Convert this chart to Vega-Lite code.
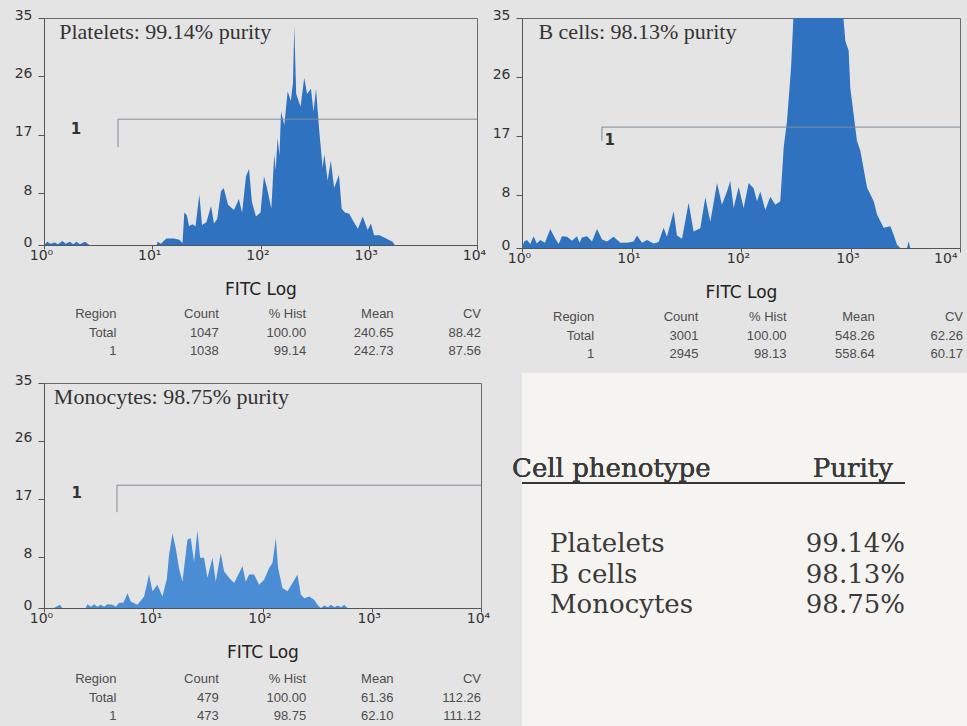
{
  "$schema": "https://vega.github.io/schema/vega-lite/v6.json",
  "background": "#e4e4e4",
  "padding": {"left": 13, "top": 7, "right": 0, "bottom": 0},
  "spacing": 0,
  "config": {
    "font": "DejaVu Sans",
    "view": {"stroke": "#6a6a6a", "strokeWidth": 1, "fill": null},
    "axis": {"grid": false, "domainColor": "#555555", "tickColor": "#555555", "labelColor": "#333333", "titleColor": "#222222", "labelFont": "DejaVu Sans", "labelFontSize": 14, "titleFont": "DejaVu Sans", "titleFontSize": 17, "titleFontWeight": "normal"},
    "axisX": {"labelExpr": "'10' + ['⁰','¹','²','³','⁴'][datum.value]", "labelFlush": false, "labelOffset": -3, "tickSize": 4, "labelPadding": -1, "titlePadding": 19},
    "axisY": {"tickSize": 6, "labelPadding": 6, "labelOffset": -3}
  },
  "hconcat": [
    {
      "spacing": 7,
      "vconcat": [
        {
          "width": 433, "height": 227,
          "data": {"values": [{"title": "Platelets:  99.14% purity", "tx": 0.14, "ty": 35, "gx": 0.684, "gxEnd": 4, "gy": 19.4, "gyLow": 15.1, "lx": 0.296, "ly": 17.9, "gate": "1"}]},
          "layer": [
            {
              "data": {"values": [
                {"logFITC": 0.0, "count": 0}, {"logFITC": 0.03, "count": 0.5}, {"logFITC": 0.06, "count": 0.2}, {"logFITC": 0.1, "count": 0.4}, {"logFITC": 0.13, "count": 0.1}, {"logFITC": 0.17, "count": 0.6}, {"logFITC": 0.2, "count": 0.2}, {"logFITC": 0.24, "count": 0.5}, {"logFITC": 0.27, "count": 0.1}, {"logFITC": 0.3, "count": 0.5}, {"logFITC": 0.33, "count": 0.1}, {"logFITC": 0.38, "count": 0.5}, {"logFITC": 0.42, "count": 0.0},
                {"logFITC": 1.04, "count": 0}, {"logFITC": 1.05, "count": 0.5}, {"logFITC": 1.08, "count": 0.2}, {"logFITC": 1.13, "count": 1.0}, {"logFITC": 1.2, "count": 1.0}, {"logFITC": 1.25, "count": 0.8}, {"logFITC": 1.28, "count": 0.3},
                {"logFITC": 1.296, "count": 5.0}, {"logFITC": 1.32, "count": 4.6}, {"logFITC": 1.34, "count": 2.9}, {"logFITC": 1.37, "count": 3.2}, {"logFITC": 1.4, "count": 2.9}, {"logFITC": 1.435, "count": 7.8}, {"logFITC": 1.46, "count": 3.1}, {"logFITC": 1.5, "count": 3.5}, {"logFITC": 1.543, "count": 6.0}, {"logFITC": 1.57, "count": 3.3}, {"logFITC": 1.6, "count": 4.0}, {"logFITC": 1.635, "count": 8.3}, {"logFITC": 1.66, "count": 8.8}, {"logFITC": 1.7, "count": 6.2}, {"logFITC": 1.755, "count": 5.4}, {"logFITC": 1.8, "count": 7.1}, {"logFITC": 1.83, "count": 5.0}, {"logFITC": 1.866, "count": 10.6}, {"logFITC": 1.894, "count": 11.7}, {"logFITC": 1.92, "count": 6.7}, {"logFITC": 1.958, "count": 4.4}, {"logFITC": 2.0, "count": 5.0}, {"logFITC": 2.032, "count": 10.6}, {"logFITC": 2.06, "count": 8.8}, {"logFITC": 2.1, "count": 5.6}, {"logFITC": 2.127, "count": 14.0}, {"logFITC": 2.14, "count": 11.5}, {"logFITC": 2.158, "count": 16.5}, {"logFITC": 2.175, "count": 13.8}, {"logFITC": 2.19, "count": 20.6}, {"logFITC": 2.22, "count": 18.5}, {"logFITC": 2.251, "count": 23.7}, {"logFITC": 2.28, "count": 22.2}, {"logFITC": 2.3, "count": 25.0}, {"logFITC": 2.312, "count": 33.7}, {"logFITC": 2.33, "count": 23.3}, {"logFITC": 2.37, "count": 21.3}, {"logFITC": 2.404, "count": 25.8}, {"logFITC": 2.43, "count": 23.3}, {"logFITC": 2.466, "count": 24.1}, {"logFITC": 2.49, "count": 20.6}, {"logFITC": 2.513, "count": 24.1}, {"logFITC": 2.54, "count": 18.1}, {"logFITC": 2.574, "count": 11.9}, {"logFITC": 2.59, "count": 14.0}, {"logFITC": 2.62, "count": 9.9}, {"logFITC": 2.65, "count": 13.0}, {"logFITC": 2.68, "count": 8.8}, {"logFITC": 2.725, "count": 10.8}, {"logFITC": 2.75, "count": 5.6}, {"logFITC": 2.78, "count": 5.0}, {"logFITC": 2.82, "count": 4.8}, {"logFITC": 2.86, "count": 3.6}, {"logFITC": 2.9, "count": 2.5}, {"logFITC": 2.944, "count": 4.4}, {"logFITC": 2.99, "count": 2.3}, {"logFITC": 3.02, "count": 3.3}, {"logFITC": 3.05, "count": 1.5}, {"logFITC": 3.1, "count": 1.5}, {"logFITC": 3.16, "count": 1.0}, {"logFITC": 3.22, "count": 0.5}, {"logFITC": 3.24, "count": 0}
              ]},
              "mark": {"type": "area", "color": "#2e72c0", "interpolate": "linear", "clip": true},
              "encoding": {
                "x": {"field": "logFITC", "type": "quantitative", "scale": {"domain": [0, 4], "nice": false}, "axis": {"title": "FITC Log", "values": [0, 1, 2, 3, 4]}},
                "y": {"field": "count", "type": "quantitative", "scale": {"domain": [0, 35], "nice": false}, "axis": {"title": null, "values": [0, 8, 17, 26, 35]}}
              }
            },
            {"mark": {"type": "rule", "color": "#7f8a96", "strokeWidth": 1}, "encoding": {"x": {"field": "gx", "type": "quantitative"}, "x2": {"field": "gxEnd"}, "y": {"field": "gy", "type": "quantitative"}}},
            {"mark": {"type": "rule", "color": "#7f8a96", "strokeWidth": 1}, "encoding": {"x": {"field": "gx", "type": "quantitative"}, "y": {"field": "gy", "type": "quantitative"}, "y2": {"field": "gyLow"}}},
            {"mark": {"type": "text", "font": "DejaVu Sans", "fontSize": 15, "fontWeight": "bold", "color": "#333333"}, "encoding": {"x": {"field": "lx", "type": "quantitative"}, "y": {"field": "ly", "type": "quantitative"}, "text": {"field": "gate"}}},
            {"mark": {"type": "text", "font": "Liberation Serif", "fontSize": 22, "align": "left", "baseline": "top", "dy": 4, "color": "#333333"}, "encoding": {"x": {"field": "tx", "type": "quantitative"}, "y": {"field": "ty", "type": "quantitative"}, "text": {"field": "title"}}}
          ]
        },
        {
          "width": 437, "height": 60,
          "view": {"stroke": null, "fill": null},
          "data": {"values": [
            {"row": "head", "Region": "Region", "Count": "Count", "Hist": "% Hist", "Mean": "Mean", "CV": "CV"},
            {"row": "Total", "Region": "Total", "Count": "1047", "Hist": "100.00", "Mean": "240.65", "CV": "88.42"},
            {"row": "1", "Region": "1", "Count": "1038", "Hist": "99.14", "Mean": "242.73", "CV": "87.56"}
          ]},
          "transform": [{"fold": ["Region", "Count", "Hist", "Mean", "CV"], "as": ["col", "text"]}],
          "encoding": {
            "x": {"field": "col", "type": "nominal", "bandPosition": 1, "scale": {"type": "band", "domain": ["Region", "Count", "Hist", "Mean", "CV"], "paddingInner": 0, "paddingOuter": 0}, "axis": null},
            "y": {"field": "row", "type": "nominal", "scale": {"type": "band", "domain": ["head", "Total", "1"], "paddingInner": 0, "paddingOuter": 0.122, "align": 0}, "axis": null},
            "text": {"field": "text"}
          },
          "layer": [
            {"transform": [{"filter": {"field": "col", "equal": "Region"}}], "mark": {"type": "text", "align": "right", "dx": -15, "font": "Liberation Sans", "fontSize": 13, "color": "#4d4d4d"}},
            {"transform": [{"filter": {"not": {"field": "col", "equal": "Region"}}}], "mark": {"type": "text", "align": "right", "font": "Liberation Sans", "fontSize": 13, "color": "#4d4d4d"}}
          ]
        },
        {
          "width": 437, "height": 225,
          "data": {"values": [{"title": "Monocytes:  98.75% purity", "tx": 0.09, "ty": 35, "gx": 0.668, "gxEnd": 4, "gy": 19.1, "gyLow": 14.9, "lx": 0.3, "ly": 17.9, "gate": "1"}]},
          "layer": [
            {
              "data": {"values": [
                {"logFITC": 0.09, "count": 0}, {"logFITC": 0.147, "count": 0.5}, {"logFITC": 0.168, "count": 0}, {"logFITC": 0.382, "count": 0}, {"logFITC": 0.397, "count": 0.6}, {"logFITC": 0.43, "count": 0.2}, {"logFITC": 0.458, "count": 0.6}, {"logFITC": 0.49, "count": 0.2}, {"logFITC": 0.519, "count": 0.5}, {"logFITC": 0.55, "count": 0.2}, {"logFITC": 0.581, "count": 0.6}, {"logFITC": 0.626, "count": 0.5}, {"logFITC": 0.657, "count": 0.2}, {"logFITC": 0.687, "count": 0.8}, {"logFITC": 0.727, "count": 0.8}, {"logFITC": 0.764, "count": 2.3}, {"logFITC": 0.794, "count": 1.0}, {"logFITC": 0.855, "count": 0.5}, {"logFITC": 0.916, "count": 1.8}, {"logFITC": 0.962, "count": 5.2}, {"logFITC": 0.993, "count": 2.6}, {"logFITC": 1.038, "count": 3.6}, {"logFITC": 1.084, "count": 1.8}, {"logFITC": 1.124, "count": 4.5}, {"logFITC": 1.145, "count": 8.3}, {"logFITC": 1.176, "count": 11.6}, {"logFITC": 1.206, "count": 9.3}, {"logFITC": 1.236, "count": 6.2}, {"logFITC": 1.267, "count": 4.1}, {"logFITC": 1.313, "count": 10.6}, {"logFITC": 1.343, "count": 10.9}, {"logFITC": 1.374, "count": 7.2}, {"logFITC": 1.405, "count": 12.1}, {"logFITC": 1.429, "count": 7.8}, {"logFITC": 1.465, "count": 7.8}, {"logFITC": 1.496, "count": 4.7}, {"logFITC": 1.542, "count": 7.8}, {"logFITC": 1.572, "count": 4.1}, {"logFITC": 1.618, "count": 8.5}, {"logFITC": 1.648, "count": 5.7}, {"logFITC": 1.694, "count": 4.7}, {"logFITC": 1.74, "count": 3.9}, {"logFITC": 1.817, "count": 6.5}, {"logFITC": 1.847, "count": 4.1}, {"logFITC": 1.877, "count": 5.2}, {"logFITC": 1.923, "count": 5.2}, {"logFITC": 1.969, "count": 3.6}, {"logFITC": 2.015, "count": 4.4}, {"logFITC": 2.06, "count": 6.2}, {"logFITC": 2.091, "count": 7.0}, {"logFITC": 2.122, "count": 10.9}, {"logFITC": 2.143, "count": 6.2}, {"logFITC": 2.183, "count": 3.1}, {"logFITC": 2.229, "count": 2.6}, {"logFITC": 2.275, "count": 3.9}, {"logFITC": 2.32, "count": 5.2}, {"logFITC": 2.351, "count": 2.1}, {"logFITC": 2.381, "count": 1.5}, {"logFITC": 2.427, "count": 1.8}, {"logFITC": 2.473, "count": 1.3}, {"logFITC": 2.504, "count": 0.5}, {"logFITC": 2.534, "count": 0}, {"logFITC": 2.564, "count": 0.4}, {"logFITC": 2.6, "count": 0.1}, {"logFITC": 2.626, "count": 0.5}, {"logFITC": 2.66, "count": 0.1}, {"logFITC": 2.687, "count": 0.4}, {"logFITC": 2.72, "count": 0.1}, {"logFITC": 2.747, "count": 0.5}, {"logFITC": 2.778, "count": 0}
              ]},
              "mark": {"type": "area", "color": "#4b8dd5", "interpolate": "linear", "clip": true},
              "encoding": {
                "x": {"field": "logFITC", "type": "quantitative", "scale": {"domain": [0, 4], "nice": false}, "axis": {"title": "FITC Log", "values": [0, 1, 2, 3, 4]}},
                "y": {"field": "count", "type": "quantitative", "scale": {"domain": [0, 35], "nice": false}, "axis": {"title": null, "values": [0, 8, 17, 26, 35]}}
              }
            },
            {"mark": {"type": "rule", "color": "#7f8a96", "strokeWidth": 1}, "encoding": {"x": {"field": "gx", "type": "quantitative"}, "x2": {"field": "gxEnd"}, "y": {"field": "gy", "type": "quantitative"}}},
            {"mark": {"type": "rule", "color": "#7f8a96", "strokeWidth": 1}, "encoding": {"x": {"field": "gx", "type": "quantitative"}, "y": {"field": "gy", "type": "quantitative"}, "y2": {"field": "gyLow"}}},
            {"mark": {"type": "text", "font": "DejaVu Sans", "fontSize": 15, "fontWeight": "bold", "color": "#333333"}, "encoding": {"x": {"field": "lx", "type": "quantitative"}, "y": {"field": "ly", "type": "quantitative"}, "text": {"field": "gate"}}},
            {"mark": {"type": "text", "font": "Liberation Serif", "fontSize": 22, "align": "left", "baseline": "top", "dy": 4, "color": "#333333"}, "encoding": {"x": {"field": "tx", "type": "quantitative"}, "y": {"field": "ty", "type": "quantitative"}, "text": {"field": "title"}}}
          ]
        },
        {
          "width": 437, "height": 62,
          "view": {"stroke": null, "fill": null},
          "data": {"values": [
            {"row": "head", "Region": "Region", "Count": "Count", "Hist": "% Hist", "Mean": "Mean", "CV": "CV"},
            {"row": "Total", "Region": "Total", "Count": "479", "Hist": "100.00", "Mean": "61.36", "CV": "112.26"},
            {"row": "1", "Region": "1", "Count": "473", "Hist": "98.75", "Mean": "62.10", "CV": "111.12"}
          ]},
          "transform": [{"fold": ["Region", "Count", "Hist", "Mean", "CV"], "as": ["col", "text"]}],
          "encoding": {
            "x": {"field": "col", "type": "nominal", "bandPosition": 1, "scale": {"type": "band", "domain": ["Region", "Count", "Hist", "Mean", "CV"], "paddingInner": 0, "paddingOuter": 0}, "axis": null},
            "y": {"field": "row", "type": "nominal", "scale": {"type": "band", "domain": ["head", "Total", "1"], "paddingInner": 0, "paddingOuter": 0.176, "align": 0.3}, "axis": null},
            "text": {"field": "text"}
          },
          "layer": [
            {"transform": [{"filter": {"field": "col", "equal": "Region"}}], "mark": {"type": "text", "align": "right", "dx": -15, "font": "Liberation Sans", "fontSize": 13, "color": "#4d4d4d"}},
            {"transform": [{"filter": {"not": {"field": "col", "equal": "Region"}}}], "mark": {"type": "text", "align": "right", "font": "Liberation Sans", "fontSize": 13, "color": "#4d4d4d"}}
          ]
        }
      ]
    },
    {
      "spacing": 7,
      "vconcat": [
        {
          "width": 438, "height": 230,
          "data": {"values": [{"title": "B cells:  98.13% purity", "tx": 0.15, "ty": 35, "gx": 0.73, "gxEnd": 4, "gy": 18.4, "gyLow": 16.3, "lx": 0.8, "ly": 16.5, "gate": "1"}]},
          "layer": [
            {
              "data": {"values": [
                {"logFITC": 0.0, "count": 0}, {"logFITC": 0.02, "count": 1.0}, {"logFITC": 0.046, "count": 1.2}, {"logFITC": 0.075, "count": 0.6}, {"logFITC": 0.106, "count": 1.8}, {"logFITC": 0.135, "count": 0.7}, {"logFITC": 0.167, "count": 1.2}, {"logFITC": 0.21, "count": 0.8}, {"logFITC": 0.258, "count": 2.9}, {"logFITC": 0.304, "count": 1.4}, {"logFITC": 0.335, "count": 0.6}, {"logFITC": 0.365, "count": 1.8}, {"logFITC": 0.411, "count": 1.7}, {"logFITC": 0.457, "count": 1.1}, {"logFITC": 0.502, "count": 1.8}, {"logFITC": 0.525, "count": 0.8}, {"logFITC": 0.548, "count": 1.6}, {"logFITC": 0.594, "count": 1.8}, {"logFITC": 0.639, "count": 1.0}, {"logFITC": 0.685, "count": 2.9}, {"logFITC": 0.731, "count": 1.3}, {"logFITC": 0.776, "count": 1.0}, {"logFITC": 0.837, "count": 1.7}, {"logFITC": 0.898, "count": 0.8}, {"logFITC": 0.959, "count": 0.8}, {"logFITC": 1.019, "count": 1.0}, {"logFITC": 1.05, "count": 1.9}, {"logFITC": 1.096, "count": 0.8}, {"logFITC": 1.142, "count": 1.2}, {"logFITC": 1.202, "count": 0.7}, {"logFITC": 1.248, "count": 0.9}, {"logFITC": 1.293, "count": 3.1}, {"logFITC": 1.324, "count": 1.7}, {"logFITC": 1.385, "count": 5.6}, {"logFITC": 1.415, "count": 1.9}, {"logFITC": 1.461, "count": 1.4}, {"logFITC": 1.522, "count": 6.9}, {"logFITC": 1.567, "count": 2.5}, {"logFITC": 1.628, "count": 3.0}, {"logFITC": 1.674, "count": 7.7}, {"logFITC": 1.72, "count": 4.0}, {"logFITC": 1.781, "count": 9.9}, {"logFITC": 1.826, "count": 6.6}, {"logFITC": 1.872, "count": 8.6}, {"logFITC": 1.902, "count": 10.2}, {"logFITC": 1.933, "count": 6.1}, {"logFITC": 1.979, "count": 9.3}, {"logFITC": 2.024, "count": 6.1}, {"logFITC": 2.07, "count": 9.9}, {"logFITC": 2.115, "count": 9.1}, {"logFITC": 2.146, "count": 7.1}, {"logFITC": 2.176, "count": 8.6}, {"logFITC": 2.222, "count": 5.8}, {"logFITC": 2.268, "count": 7.8}, {"logFITC": 2.313, "count": 6.6}, {"logFITC": 2.359, "count": 7.1}, {"logFITC": 2.39, "count": 15.3}, {"logFITC": 2.42, "count": 19.3}, {"logFITC": 2.457, "count": 27.4}, {"logFITC": 2.487, "count": 38}, {"logFITC": 2.51, "count": 45}, {"logFITC": 2.55, "count": 55}, {"logFITC": 2.6, "count": 62}, {"logFITC": 2.65, "count": 70}, {"logFITC": 2.7, "count": 72}, {"logFITC": 2.75, "count": 70}, {"logFITC": 2.8, "count": 65}, {"logFITC": 2.85, "count": 55}, {"logFITC": 2.9, "count": 45}, {"logFITC": 2.925, "count": 37}, {"logFITC": 2.953, "count": 31.5}, {"logFITC": 2.983, "count": 30}, {"logFITC": 2.998, "count": 24.4}, {"logFITC": 3.059, "count": 16.3}, {"logFITC": 3.09, "count": 14.8}, {"logFITC": 3.151, "count": 9.2}, {"logFITC": 3.212, "count": 7.1}, {"logFITC": 3.242, "count": 5.1}, {"logFITC": 3.303, "count": 3.1}, {"logFITC": 3.364, "count": 3.3}, {"logFITC": 3.394, "count": 2.0}, {"logFITC": 3.425, "count": 0.5}, {"logFITC": 3.455, "count": 0}, {"logFITC": 3.516, "count": 0}, {"logFITC": 3.531, "count": 1.0}, {"logFITC": 3.546, "count": 0}
              ]},
              "mark": {"type": "area", "color": "#2e72c0", "interpolate": "linear", "clip": true},
              "encoding": {
                "x": {"field": "logFITC", "type": "quantitative", "scale": {"domain": [0, 4], "nice": false}, "axis": {"title": "FITC Log", "values": [0, 1, 2, 3, 4], "labelAlign": {"condition": {"test": "datum.value == 4", "value": "right"}, "value": "center"}}},
                "y": {"field": "count", "type": "quantitative", "scale": {"domain": [0, 35], "nice": false}, "axis": {"title": null, "values": [0, 8, 17, 26, 35]}}
              }
            },
            {"mark": {"type": "rule", "color": "#7f8a96", "strokeWidth": 1}, "encoding": {"x": {"field": "gx", "type": "quantitative"}, "x2": {"field": "gxEnd"}, "y": {"field": "gy", "type": "quantitative"}}},
            {"mark": {"type": "rule", "color": "#7f8a96", "strokeWidth": 1}, "encoding": {"x": {"field": "gx", "type": "quantitative"}, "y": {"field": "gy", "type": "quantitative"}, "y2": {"field": "gyLow"}}},
            {"mark": {"type": "text", "font": "DejaVu Sans", "fontSize": 15, "fontWeight": "bold", "color": "#333333"}, "encoding": {"x": {"field": "lx", "type": "quantitative"}, "y": {"field": "ly", "type": "quantitative"}, "text": {"field": "gate"}}},
            {"mark": {"type": "text", "font": "Liberation Serif", "fontSize": 22, "align": "left", "baseline": "top", "dy": 4, "color": "#333333"}, "encoding": {"x": {"field": "tx", "type": "quantitative"}, "y": {"field": "ty", "type": "quantitative"}, "text": {"field": "title"}}}
          ]
        },
        {
          "width": 441, "height": 58,
          "view": {"stroke": null, "fill": null},
          "data": {"values": [
            {"row": "head", "Region": "Region", "Count": "Count", "Hist": "% Hist", "Mean": "Mean", "CV": "CV"},
            {"row": "Total", "Region": "Total", "Count": "3001", "Hist": "100.00", "Mean": "548.26", "CV": "62.26"},
            {"row": "1", "Region": "1", "Count": "2945", "Hist": "98.13", "Mean": "558.64", "CV": "60.17"}
          ]},
          "transform": [{"fold": ["Region", "Count", "Hist", "Mean", "CV"], "as": ["col", "text"]}],
          "encoding": {
            "x": {"field": "col", "type": "nominal", "bandPosition": 1, "scale": {"type": "band", "domain": ["Region", "Count", "Hist", "Mean", "CV"], "paddingInner": 0, "paddingOuter": 0}, "axis": null},
            "y": {"field": "row", "type": "nominal", "scale": {"type": "band", "domain": ["head", "Total", "1"], "paddingInner": 0, "paddingOuter": 0.068, "align": 0}, "axis": null},
            "text": {"field": "text"}
          },
          "layer": [
            {"transform": [{"filter": {"field": "col", "equal": "Region"}}], "mark": {"type": "text", "align": "right", "dx": -16, "font": "Liberation Sans", "fontSize": 13, "color": "#4d4d4d"}},
            {"transform": [{"filter": {"not": {"field": "col", "equal": "Region"}}}], "mark": {"type": "text", "align": "right", "font": "Liberation Sans", "fontSize": 13, "color": "#4d4d4d"}}
          ]
        },
        {
          "width": 445, "height": 354,
          "view": {"stroke": null, "fill": "#f6f4f0"},
          "data": {"values": [
            {"cell": "Platelets", "purity": "99.14%"},
            {"cell": "B cells", "purity": "98.13%"},
            {"cell": "Monocytes", "purity": "98.75%"}
          ]},
          "layer": [
            {
              "mark": {"type": "text", "align": "left", "dx": 28, "font": "DejaVu Serif", "fontSize": 26, "color": "#3a3a3a"},
              "encoding": {
                "x": {"datum": "Cell phenotype", "type": "nominal", "scale": {"type": "point", "domain": ["Cell phenotype", "Purity"], "padding": 0.081, "align": 0}, "axis": null},
                "y": {"field": "cell", "type": "nominal", "scale": {"type": "point", "domain": ["top1", "top2", "top3", "Cell phenotype", "gap", "Platelets", "B cells", "Monocytes", "bottom1", "bottom2", "bottom3"], "padding": 0.803, "align": 0.378}, "axis": null},
                "text": {"field": "cell"}
              }
            },
            {
              "mark": {"type": "text", "align": "right", "font": "DejaVu Serif", "fontSize": 26, "color": "#3a3a3a"},
              "encoding": {
                "x": {"datum": "Purity", "type": "nominal"},
                "y": {"field": "cell", "type": "nominal"},
                "text": {"field": "purity"}
              }
            },
            {
              "mark": {"type": "text", "align": "left", "dx": -10, "dy": -14, "font": "DejaVu Serif", "fontSize": 26, "color": "#3a3a3a"},
              "encoding": {
                "x": {"datum": "Cell phenotype", "type": "nominal"},
                "y": {"datum": "Cell phenotype", "type": "nominal"},
                "text": {"value": "Cell phenotype"}
              }
            },
            {
              "mark": {"type": "text", "align": "right", "dx": -12, "dy": -14, "font": "DejaVu Serif", "fontSize": 26, "color": "#3a3a3a"},
              "encoding": {
                "x": {"datum": "Purity", "type": "nominal"},
                "y": {"datum": "Cell phenotype", "type": "nominal"},
                "text": {"value": "Purity"}
              }
            },
            {
              "mark": {"type": "rule", "color": "#333333", "strokeWidth": 1.5},
              "encoding": {
                "x": {"datum": "Cell phenotype", "type": "nominal"},
                "x2": {"datum": "Purity"},
                "y": {"datum": "Cell phenotype", "type": "nominal"}
              }
            }
          ]
        }
      ]
    }
  ]
}
